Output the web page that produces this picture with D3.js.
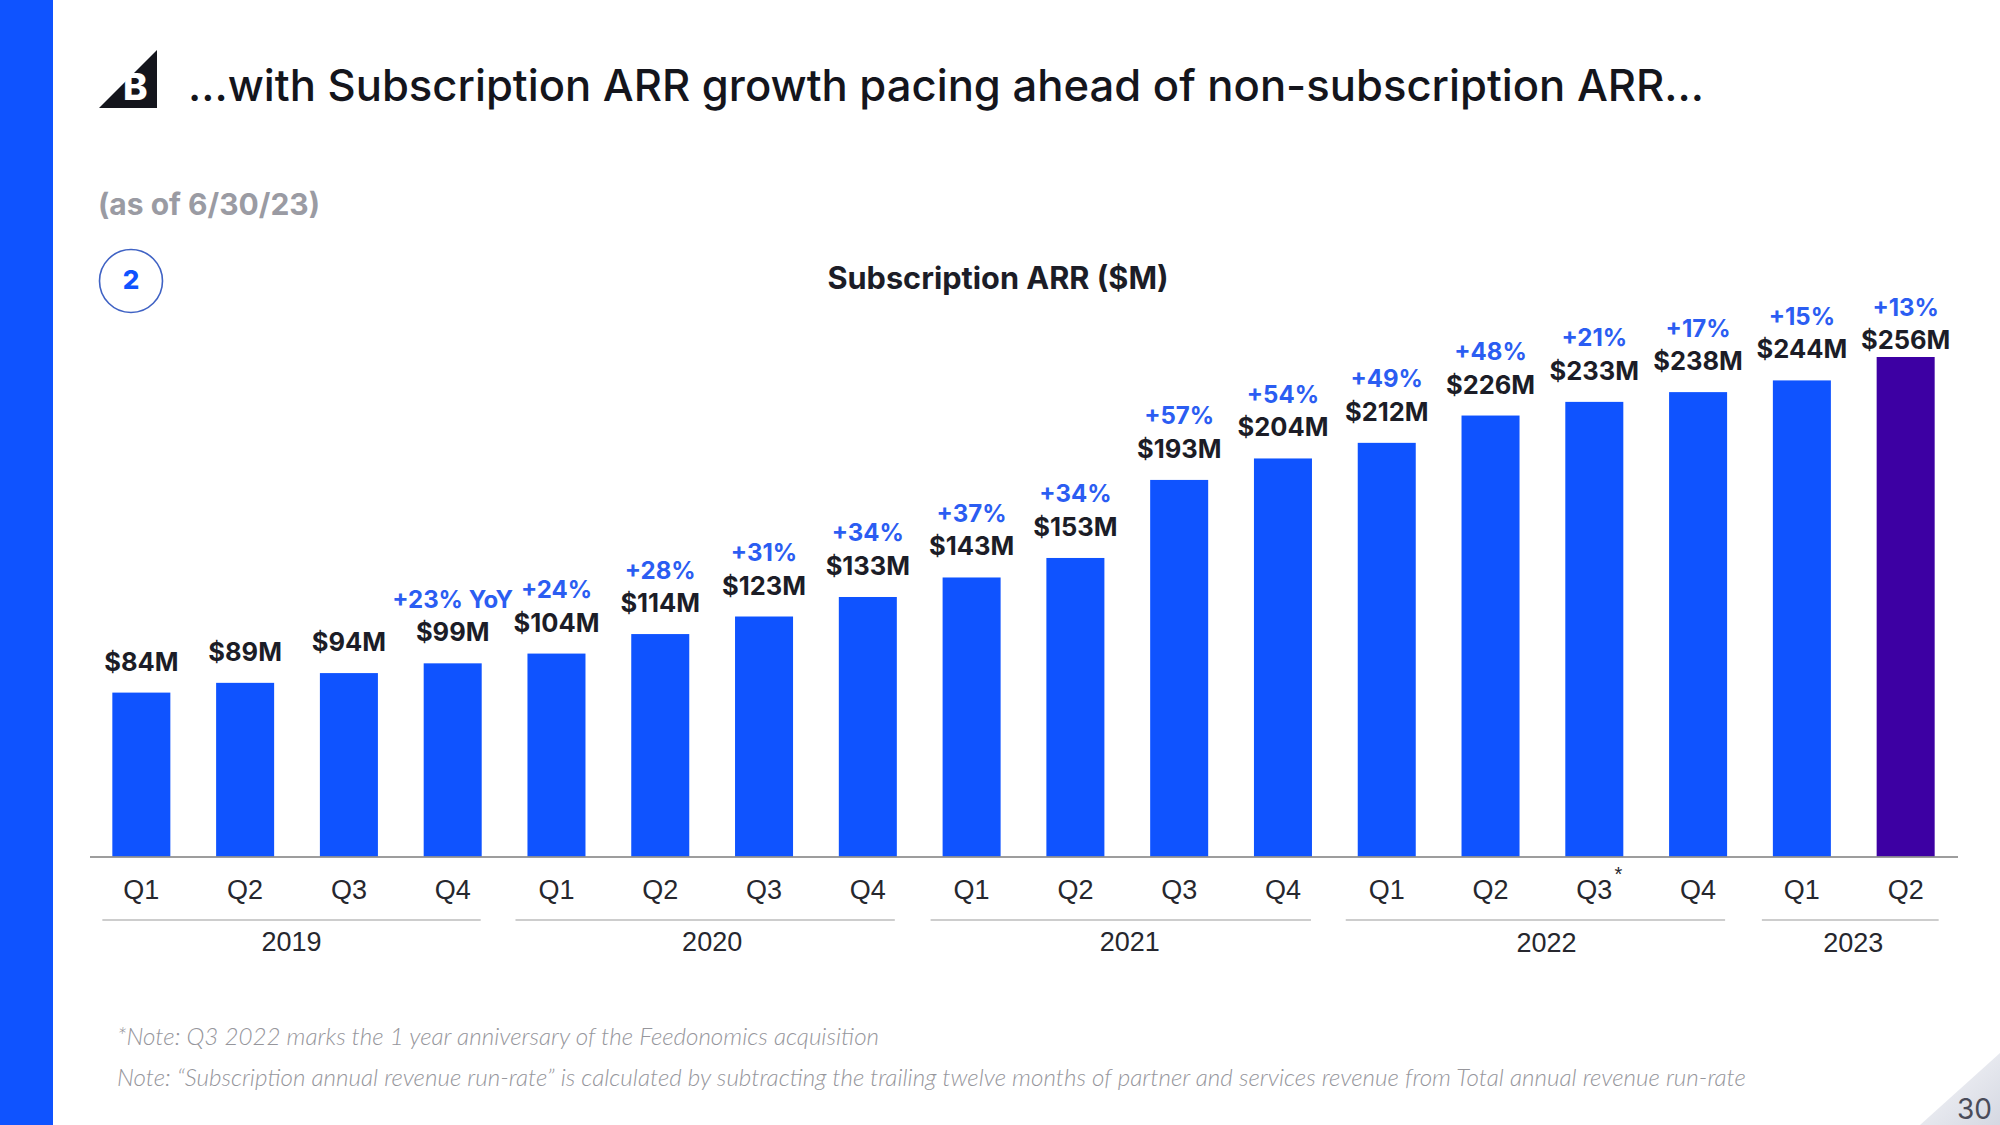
<!DOCTYPE html>
<html><head><meta charset="utf-8">
<script src="https://cdn.jsdelivr.net/npm/d3@7"></script>
<style>
html,body{margin:0;padding:0;background:#fff;overflow:hidden}
svg{display:block}
text{font-family:Inter,Lato,sans-serif}
</style></head><body>
<svg id="c" width="2000" height="1125"></svg>
<script>
const quarters=["Q1","Q2","Q3","Q4","Q1","Q2","Q3","Q4","Q1","Q2","Q3","Q4","Q1","Q2","Q3","Q4","Q1","Q2"];
const years=[2019,2019,2019,2019,2020,2020,2020,2020,2021,2021,2021,2021,2022,2022,2022,2022,2023,2023];
const arr=[84,89,94,99,104,114,123,133,143,153,193,204,212,226,233,238,244,256];
const yoy=[null,null,null,"+23% YoY","+24%","+28%","+31%","+34%","+37%","+34%","+57%","+54%","+49%","+48%","+21%","+17%","+15%","+13%"];
const yearLabels=[2019,2020,2021,2022,2023];
const title="...with Subscription ARR growth pacing ahead of non-subscription ARR...";
const subtitle="(as of 6/30/23)";
const chartTitle="Subscription ARR ($M)";
const notes=["*Note: Q3 2022 marks the 1 year anniversary of the Feedonomics acquisition","Note: \u201cSubscription annual revenue run-rate\u201d is calculated by subtracting the trailing twelve months of partner and services revenue from Total annual revenue run-rate"];

const BLUE="#0f53ff",PURPLE="#3d00a3",INK="#1c1d27",PCT="#2b5df2";
const svg=d3.select("#c");
const keys=quarters.map((q,i)=>years[i]+" "+q);
const x=d3.scaleBand().domain(keys).range([89.5,1957.5]).paddingInner(0.441).paddingOuter(0.22);
const y=d3.scaleLinear().domain([0,256]).range([856.5,357]);

// slide furniture
svg.append("rect").attr("x",0).attr("y",0).attr("width",53).attr("height",1125).attr("fill",BLUE);
const g0=svg.append("defs").append("linearGradient").attr("id","corner").attr("x1","0").attr("y1","0").attr("x2","1").attr("y2","1");
g0.append("stop").attr("offset","0.2").attr("stop-color","#f1f2f6");
g0.append("stop").attr("offset","1").attr("stop-color","#d5d8e2");
svg.append("path").attr("d","M1920,1125L2000,1053L2000,1125Z").attr("fill","url(#corner)");
svg.append("text").attr("x",1992).attr("y",1119).attr("text-anchor","end").attr("font-size",28).attr("fill","#4a4c5a").text("30");

// logo
svg.append("path").attr("d","M99,108L157,50L157,108Z").attr("fill","#14151c");
svg.append("text").attr("x",123).attr("y",100).attr("font-size",37).attr("font-weight",800).attr("fill","#fff").text("B");

svg.append("text").attr("x",188).attr("y",101).attr("font-size",43.6).attr("font-weight",500).attr("fill","#14151c").text(title);
svg.append("text").attr("x",98).attr("y",215).attr("font-size",30).attr("font-weight",700).attr("fill","#9a9ba3").text(subtitle);
svg.append("circle").attr("cx",131).attr("cy",281).attr("r",31.5).attr("fill","#fff").attr("stroke","#3f62c4").attr("stroke-width",1.6);
svg.append("text").attr("x",131).attr("y",289).attr("text-anchor","middle").attr("font-size",26).attr("font-weight",800).attr("fill",BLUE).text("2");
svg.append("text").attr("x",998).attr("y",289).attr("text-anchor","middle").attr("font-size",30.7).attr("font-weight",700).attr("fill",INK).text(chartTitle);

// bars
const data=keys.map((k,i)=>({k,v:arr[i],p:yoy[i],i}));
svg.append("g").selectAll("rect").data(data).join("rect")
 .attr("x",d=>x(d.k)).attr("width",x.bandwidth())
 .attr("y",d=>y(d.v)).attr("height",d=>y(0)-y(d.v))
 .attr("fill",(d,i)=>i===data.length-1?PURPLE:BLUE);

// axis
const axis=d3.axisBottom(x).tickSize(0).tickPadding(23).tickSizeOuter(0).tickFormat(k=>k.split(" ")[1]);
const ax=svg.append("g").attr("transform",`translate(0,${y(0)})`).call(axis);
ax.select(".domain").attr("stroke","#7d7d7d").attr("stroke-width",1.6);
ax.selectAll("text").style("font-family","'Liberation Sans',sans-serif").attr("font-size",27).attr("fill","#26272e");

// value + yoy labels
const cx=d=>x(d.k)+x.bandwidth()/2;
const valGap=d=>d.i===data.length-1?8:22;
const valY=d=>y(d.v)-valGap(d);
svg.append("g").selectAll("text").data(data).join("text")
 .attr("x",cx).attr("y",valY).attr("text-anchor","middle").attr("font-size",25.5).attr("font-weight",700).attr("fill",INK)
 .text(d=>`$${d.v}M`);
svg.append("g").selectAll("text").data(data.filter(d=>d.p)).join("text")
 .attr("x",cx).attr("y",d=>valY(d)-33.5).attr("text-anchor","middle").attr("font-size",24).attr("font-weight",700).attr("fill",PCT)
 .text(d=>d.p);

// footnote marker
svg.append("text").attr("x",x("2022 Q3")+x.bandwidth()/2+24).attr("y",881).attr("text-anchor","middle").style("font-family","'Liberation Sans',sans-serif").attr("font-size",20).attr("fill","#26272e").text("*");

// year brackets
const yearNudge={2019:0,2020:7,2021:9,2022:11,2023:3};
const startPad={2019:10,2020:12,2021:12,2022:12,2023:11};
const endPad={2019:-1,2020:-2,2021:-1,2022:-2,2023:4};
yearLabels.forEach(yr=>{
  const ks=keys.filter(k=>k.startsWith(yr));
  const a=x(ks[0])-startPad[yr],b=x(ks[ks.length-1])+x.bandwidth()+endPad[yr];
  svg.append("line").attr("x1",a).attr("x2",b).attr("y1",920).attr("y2",920).attr("stroke","#bdbdbd").attr("stroke-width",1.6);
  svg.append("text").attr("x",(a+b)/2+yearNudge[yr]).attr("y",yr>=2022?952:951).attr("text-anchor","middle")
   .style("font-family","'Liberation Sans',sans-serif").attr("font-size",27).attr("fill","#26272e").text(yr);
});

// notes
notes.forEach((n,i)=>svg.append("text").attr("x",117).attr("y",[1045,1086][i]).style("font-family","Lato,sans-serif").attr("font-size",24.2).attr("font-style","italic").attr("font-weight",300).attr("fill","#96969c").text(n));
</script></body></html>
